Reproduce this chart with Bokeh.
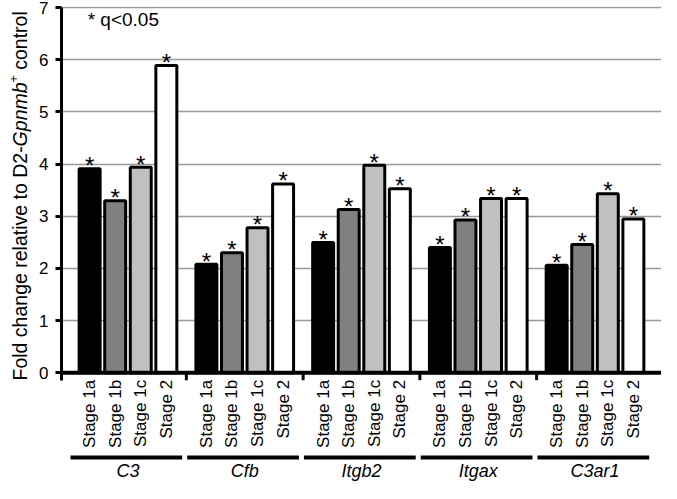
import math
from bokeh.plotting import figure
from bokeh.layouts import row
from bokeh.models import FactorRange, Range1d, Span, Label, ColumnDataSource, FixedTicker
from bokeh.core.properties import value
from bokeh.embed import file_html
from bokeh.resources import INLINE

# ---------------- data ----------------
genes = ["C3", "Cfb", "Itgb2", "Itgax", "C3ar1"]
stages = ["Stage 1a", "Stage 1b", "Stage 1c", "Stage 2"]
stage_1a = [3.91, 2.08, 2.50, 2.40, 2.06]
stage_1b = [3.30, 2.30, 3.13, 2.93, 2.46]
stage_1c = [3.94, 2.78, 3.98, 3.34, 3.43]
stage_2 = [5.89, 3.62, 3.53, 3.34, 2.95]
significant = [True] * 20
y_ticks = [0, 1, 2, 3, 4, 5, 6, 7]
note_text = "* q<0.05"
title_pieces = ["Fold change relative to D2-", "Gpnmb", "+", "control"]

# ---------------- layout constants ----------------
FONT = "Liberation Sans"
H = 483
TITLE_W = 36
W = 661 - TITLE_W
BORDER_L, BORDER_R, BORDER_T = 24, 0, 6
GROUP_PAD = 0.566
RANGE_PAD = 0.6          # total, split over both ends
Y_START, Y_END = -2.12, 7.02
FRAME_W = W - BORDER_L - BORDER_R
FRAME_H = H - BORDER_T
TOTAL_UNITS = len(genes) * len(stages) + (len(genes) - 1) * GROUP_PAD + RANGE_PAD
PX_X = FRAME_W / TOTAL_UNITS
PX_Y = FRAME_H / (Y_END - Y_START)

series = [stage_1a, stage_1b, stage_1c, stage_2]
fills = ["#000000", "#808080", "#c0c0c0", "#ffffff"]

factors = [(g, s) for g in genes for s in stages]
tops = [series[j][i] for i in range(len(genes)) for j in range(len(stages))]
colors = [fills[j] for i in range(len(genes)) for j in range(len(stages))]
stage_txt = [s for g in genes for s in stages]

bars = ColumnDataSource(dict(x=factors, top=tops, color=colors, stage=stage_txt))
stars = ColumnDataSource(dict(
    x=[f for f, sig in zip(factors, significant) if sig],
    y=[t for t, sig in zip(tops, significant) if sig],
    t=["*" for sig in significant if sig],
))

x_range = FactorRange(*factors, factor_padding=0, group_padding=GROUP_PAD,
                      range_padding=RANGE_PAD, range_padding_units="absolute")
y_range = Range1d(Y_START, Y_END)

p = figure(width=W, height=H, x_range=x_range, y_range=y_range,
           output_backend="svg", toolbar_location=None,
           x_axis_location=None,
           min_border_left=BORDER_L, min_border_right=BORDER_R,
           min_border_top=BORDER_T, min_border_bottom=0)
p.outline_line_color = None

# y axis
ya = p.yaxis[0]
ya.ticker = FixedTicker(ticks=y_ticks)
ya.bounds = (-0.14, 7)
ya.axis_line_width = 3
ya.axis_line_color = "black"
ya.major_tick_line_width = 3
ya.major_tick_line_color = "black"
ya.major_tick_out = 6
ya.major_tick_in = 0
ya.minor_tick_out = 0
ya.minor_tick_in = 0
ya.major_label_text_font = FONT
ya.major_label_text_font_size = "17px"
ya.major_label_text_color = "black"
ya.major_label_standoff = 7

p.xgrid.visible = False
p.ygrid.ticker = FixedTicker(ticks=y_ticks[1:])
p.ygrid.grid_line_color = "#999999"
p.ygrid.grid_line_width = 1.5

# bars
p.vbar(x="x", top="top", width=0.82, source=bars, fill_color="color",
       line_color="black", line_width=3)

# x axis line
p.add_layout(Span(location=0, dimension="width", line_color="black", line_width=4))

# group boundary ticks
bx = [(genes[i], stages[-1], 0.5 + GROUP_PAD / 2) for i in range(len(genes) - 1)]
p.segment(x0=bx, x1=bx, y0=[0] * len(bx), y1=[-0.14] * len(bx),
          line_color="black", line_width=3)

# stage labels
p.text(x="x", y=0, text="stage", source=bars, angle=math.pi / 2,
       text_align="right", text_baseline="middle", y_offset=7,
       text_font=value(FONT), text_font_size="17px", text_color="black")

# asterisks
p.text(x="x", y="y", text="t", source=stars, text_align="center",
       text_baseline="alphabetic", y_offset=-3,
       text_font=value(FONT), text_font_size="24px", text_color="black")

# group underlines and gene names
p.segment(x0=[(g, stages[0], -0.75) for g in genes],
          x1=[(g, stages[-1], 0.62) for g in genes],
          y0=[-1.62] * len(genes), y1=[-1.62] * len(genes),
          line_color="black", line_width=4)
p.text(x=[(g, stages[1], 0.5) for g in genes], y=[-1.89] * len(genes), text=genes,
       text_align="center", text_baseline="middle", text_font=value(FONT),
       text_font_size="18px", text_font_style="italic", text_color="black")

# note
p.add_layout(Label(x=-RANGE_PAD / 2 + 19 / PX_X, y=6.78, text=note_text,
                   text_font=FONT, text_font_size="19px", text_baseline="middle",
                   text_color="black"))

# ---------------- y-axis title (separate narrow panel) ----------------
t = figure(width=TITLE_W, height=H, x_range=Range1d(0, TITLE_W), y_range=y_range,
           output_backend="svg", toolbar_location=None,
           x_axis_location=None, y_axis_location=None,
           min_border_left=0, min_border_right=0,
           min_border_top=BORDER_T, min_border_bottom=0)
t.outline_line_color = None
t.xgrid.visible = False
t.ygrid.visible = False

piece_style = ["normal", "italic", "normal", "normal"]
piece_size = ["19.5px", "19.5px", "12.5px", "19.5px"]
piece_xoff = [0, 0, -6, 0]
piece_wpx = [234.1, 63.9, 12.7, 58.5]   # advance incl. following space
yy = -0.146
for txt, style, size, xoff, wpx in zip(title_pieces, piece_style, piece_size,
                                        piece_xoff, piece_wpx):
    t.text(x=[19], y=[yy], text=[txt], angle=math.pi / 2, x_offset=xoff,
           text_align="left", text_baseline="alphabetic",
           text_font=value(FONT), text_font_size=size,
           text_font_style=style, text_color="black")
    yy += wpx / PX_Y

layout = row(t, p, spacing=0)
open("out.html", "w").write(file_html(layout, INLINE))
